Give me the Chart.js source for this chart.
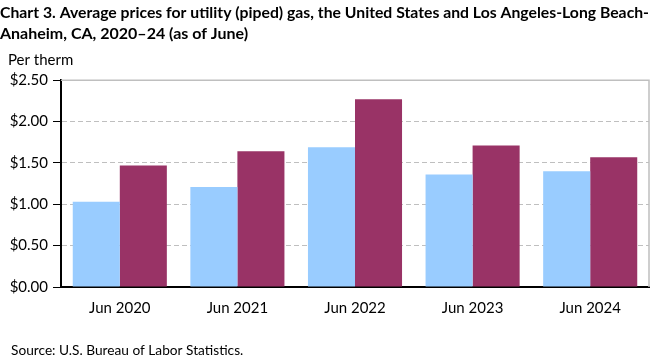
<!DOCTYPE html>
<html>
<head>
<meta charset="utf-8">
<script src="https://cdn.jsdelivr.net/npm/chart.js@4.4.1/dist/chart.umd.min.js"></script>
<style>
  html, body { margin: 0; padding: 0; background: #fff; }
  #wrap { width: 661px; height: 361px; position: relative; }
</style>
</head>
<body>
<div id="wrap"><canvas id="chart"></canvas></div>
<script>
const categories = ["Jun 2020", "Jun 2021", "Jun 2022", "Jun 2023", "Jun 2024"];
const usPrices = [1.03, 1.21, 1.69, 1.36, 1.40];
const laPrices = [1.47, 1.64, 2.27, 1.71, 1.57];
const seriesNames = ["United States", "Los Angeles"];
const titleLines = [
  "Chart 3. Average prices for utility (piped) gas, the United States and Los Angeles-Long Beach-",
  "Anaheim, CA, 2020\u201324 (as of June)"
];
const yLabel = "Per therm";
const sourceNote = "Source: U.S. Bureau of Labor Statistics.";

const FONT = "Lato, 'Open Sans', sans-serif";

// extra texts + plot frame
const extras = {
  id: "extras",
  beforeInit(chart) {
    const fit = chart.legend.fit;
    chart.legend.fit = function () {
      fit.call(this);
      this.height = 36;
    };
  },
  afterDraw(chart) {
    const { ctx, chartArea: a } = chart;
    ctx.save();
    ctx.strokeStyle = "#bfbfbf";
    ctx.lineWidth = 1.5;
    ctx.beginPath();
    ctx.moveTo(a.left, a.top);
    ctx.lineTo(a.right, a.top);
    ctx.lineTo(a.right, a.bottom);
    ctx.stroke();

    ctx.fillStyle = "#000";
    ctx.textBaseline = "middle";
    ctx.textAlign = "left";
    ctx.font = "15px " + FONT;
    ctx.fillText(yLabel, 8, 60);
    ctx.font = "13.7px " + FONT;
    ctx.fillText(sourceNote, 11, 351);
    ctx.restore();
  }
};

new Chart(document.getElementById("chart"), {
  type: "bar",
  data: {
    labels: categories,
    datasets: [
      { label: seriesNames[0], data: usPrices, backgroundColor: "#99ccff" },
      { label: seriesNames[1], data: laPrices, backgroundColor: "#993366" }
    ]
  },
  options: {
    responsive: true,
    maintainAspectRatio: false,
    animation: false,
    layout: { padding: { left: 0, right: 12, top: 0, bottom: 32 } },
    datasets: { bar: { categoryPercentage: 0.8, barPercentage: 1.0 } },
    plugins: {
      title: {
        display: true,
        text: titleLines,
        align: "start",
        color: "#000",
        font: { family: FONT, size: 16, weight: "bold", lineHeight: 1.32 },
        padding: { top: 2, bottom: 0 }
      },
      legend: {
        position: "top",
        labels: {
          color: "#000",
          font: { family: FONT, size: 15 },
          boxWidth: 10,
          boxHeight: 10,
          padding: 50
        }
      },
      tooltip: { enabled: false }
    },
    scales: {
      x: {
        grid: { display: false, drawTicks: false },
        border: { color: "#000", width: 2 },
        ticks: { color: "#000", font: { family: FONT, size: 15 }, padding: 12 }
      },
      y: {
        min: 0,
        max: 2.5,
        afterFit(scale) { scale.width = 61; },
        border: { color: "#000", width: 2, dash: [5, 3] },
        grid: {
          color: ctx => (ctx.index > 0 && ctx.index < 5) ? "#bfbfbf" : "rgba(0,0,0,0)",
          tickColor: "#000",
          tickLength: 8,
          lineWidth: 1
        },
        ticks: {
          stepSize: 0.5,
          color: "#000",
          padding: 5,
          font: { family: FONT, size: 15 },
          callback: v => "$" + v.toFixed(2)
        }
      }
    }
  },
  plugins: [extras]
});
</script>
</body>
</html>
